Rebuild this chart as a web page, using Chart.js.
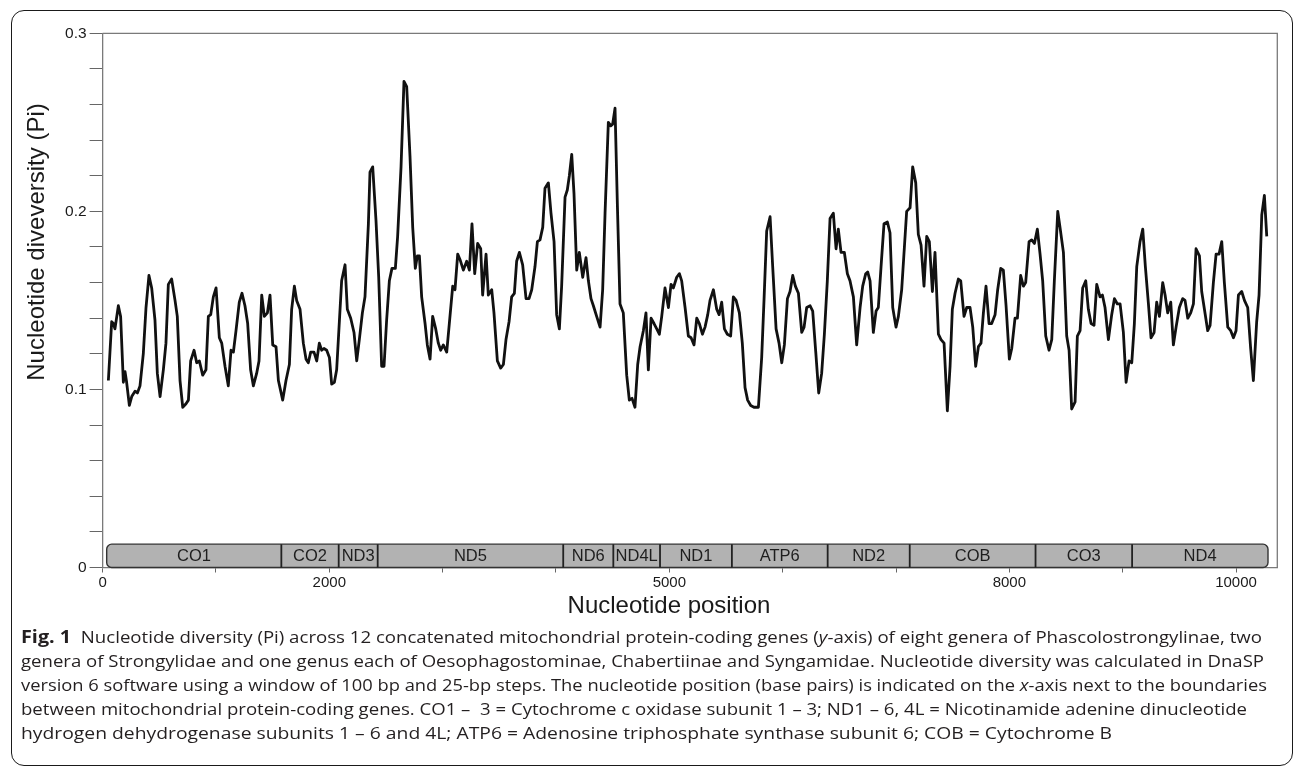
<!DOCTYPE html>
<html><head><meta charset="utf-8">
<script src="https://cdn.jsdelivr.net/npm/chart.js@4.4.1/dist/chart.umd.min.js"></script>
<style>
html,body{margin:0;padding:0;background:#fff;}
#wrap{position:relative;width:1293px;height:766px;overflow:hidden;background:#fff;}
#frame{position:absolute;left:10.5px;top:9.5px;width:1282px;height:756px;border:1.3px solid #1a1a1a;border-radius:13px;box-sizing:border-box;}
#c{position:absolute;left:0;top:0;}
#caption{position:absolute;left:21px;top:625px;font-family:"Open Sans","Noto Sans",sans-serif;font-size:16px;color:#231f20;line-height:24px;}
.ln{white-space:nowrap;transform-origin:0 50%;width:max-content;height:24px;}
.ln b{font-weight:700;font-size:17px;}
</style></head>
<body>
<div id="wrap">
<div id="frame"></div>
<canvas id="c" width="1293" height="766"></canvas>
<div id="caption">
<div class="ln" data-w="1241"><b>Fig. 1</b>&nbsp; Nucleotide diversity (Pi) across 12 concatenated mitochondrial protein-coding genes (<i>y</i>-axis) of eight genera of Phascolostrongylinae, two</div>
<div class="ln" data-w="1243">genera of Strongylidae and one genus each of Oesophagostominae, Chabertiinae and Syngamidae. Nucleotide diversity was calculated in DnaSP</div>
<div class="ln" data-w="1246">version 6 software using a window of 100 bp and 25-bp steps. The nucleotide position (base pairs) is indicated on the <i>x</i>-axis next to the boundaries</div>
<div class="ln" data-w="1226">between mitochondrial protein-coding genes. CO1 –&nbsp; 3 = Cytochrome c oxidase subunit 1 – 3; ND1 – 6, 4L = Nicotinamide adenine dinucleotide</div>
<div class="ln" data-w="1091">hydrogen dehydrogenase subunits 1 – 6 and 4L; ATP6 = Adenosine triphosphate synthase subunit 6; COB = Cytochrome B</div>
</div>
</div>
<script>
// ---- data ----
const positions = [
51,80,95,109,139,159,183,198,212,236, 257,286,307,330,359,383,409,433,462,483,
507,536,559,580,609,639,659,683,707,736, 757,777,807,830,854,883,912,933,954,977,
1001,1030,1051,1080,1109,1133,1154,1177,1206,1230, 1256,1280,1306,1330,1359,1380,1404,1427,1454,1477,
1501,1530,1551,1589,1618,1648,1668,1692,1712,1742, 1771,1795,1815,1836,1865,1889,1912,1933,1953,1977,
2001,2021,2045,2065,2109,2139,2159,2189,2218,2242, 2265,2292,2315,2345,2359,2383,2412,2436,2462,2483,
2506,2530,2553,2583,2603,2633,2659,2683,2712,2736, 2759,2777,2795,2815,2845,2865,2889,2912,2939,2962,
2983,3006,3036,3059,3089,3109,3133,3153,3183,3212, 3236,3259,3283,3309,3336,
3353,3383,3403,3433,3453,3483,3512,3536,3559,3586, 3609,3633,3653,3677,3706,3736,3762,3786,3815,3836,
3859,3883,3903,3933,3956,3983,4006,4030,4050,4080, 4100,4118,4139,4159,4183,4206,4236,4265,4286,4309,
4330,4359,4389,4412,4433,4462,4483,4500,4521,4542, 4565,4594,4624,4647,4671,4697,4721,4742,4771,4794,
4815,4839,4865,4889,4912,4933,4962,4992,5015,5036, 5065,5089,5109,5139,5168,5192,5218,5242,5265,5292,
5315,5339,5359,5389,5418,5439,5462,5486,5512,5541, 5565,5589,5618,5644,5668,5691,5718,5747,5786,5815,
5836,5859,5889,5912,5942,5968,5992,6015,6042,6065, 6089,6112,6139,6168,6189,6212,6242,6265,6292,6318,
6344,6368,6394,6418,6447,6471,6491,6515,6544,6571, 6594,6624,6653,6683,6706,6733,6750,6771,
6800,6824,6844,6868,6894,6924,6947,6971,7000,7021, 7050,7074,7094,7124,7147,7174,7197,7221,7247,7271,
7294,7321,7344,7374,7397,7424,7453,7477,7497,7521, 7550,7571,7600,7624,7653,7677,7703,7727,7750,7771,
7794,7821,7844,7874,7897,7924,7947,7971,8000,8021, 8050,8071,8100,8124,8144,8174,8197,8221,8247,8271,
8294,8321,8350,8374,8397,8427,8447,8477,8506,8527, 8550,8580,8600,8624,8647,8674,8697,8721,8747,8771,
8800,8821,8844,8874,8903,8927,8953,8977,9006,9030, 9056,9080,9103,9124,9153,9177,9200,9227,9250,9277,
9300,9324,9353,9374,9397,9424,9447,9471,9500,9529, 9550,9574,9600,9624,9647,9677,9697,9721,9750,9771,
9800,9824,9850,9874,9897,9927,9953,9977,10000,10021, 10050,10074,10103,10129,10153,10182,10203,10227,10250,10271
];
const piValues = [
.105,.138,.137,.134,.147,.141,.104,.110,.104,.091, .096,.099,.098,.102,.120,.146,.164,.157,.139,.109,
.096,.111,.126,.159,.162,.150,.141,.105,.090,.092, .094,.116,.122,.115,.116,.108,.111,.141,.142,.152,
.157,.129,.126,.113,.102,.122,.121,.133,.149,.154, .147,.137,.111,.102,.109,.116,.153,.141,.143,.153,
.125,.124,.105,.094,.105,.114,.145,.158,.150,.145, .126,.117,.115,.121,.121,.116,.126,.122,.123,.122,
.118,.103,.104,.111,.161,.170,.145,.140,.132,.116, .128,.143,.152,.193,.222,.225,.195,.163,.113,.113,
.139,.161,.168,.168,.186,.225,.273,.270,.231,.191, .168,.175,.175,.152,.137,.125,.117,.141,.134,.126,
.122,.125,.121,.137,.158,.156,.176,.173,.167,.172, .167,.193,.165,.182,.179,
.153,.176,.153,.156,.143,.116,.112,.114,.128,.138, .152,.154,.172,.177,.170,.151,.151,.156,.169,.183,
.184,.191,.213,.216,.199,.183,.142,.134,.158,.208, .212,.220,.232,.210,.167,.177,.163,.174,.161,.151,
.147,.141,.135,.156,.199,.250,.248,.249,.258,.203, .148,.143,.108,.094,.095,.090,.114,.124,.133,.143,
.111,.140,.137,.134,.131,.141,.157,.146,.159,.157, .163,.165,.161,.146,.130,.129,.125,.140,.137,.131,
.135,.142,.150,.156,.145,.142,.149,.134,.131,.130, .152,.150,.143,.126,.101,.094,.091,.090,.090,.118,
.151,.189,.197,.169,.134,.126,.115,.125,.151,.155, .164,.158,.154,.132,.135,.146,.147,.144,.121,.098,
.109,.131,.161,.196,.199,.179,.190,.177,.177,.165, .161,.152,.125,.146,.158,.165,.166,.161,
.132,.144,.146,.169,.193,.194,.188,.146,.135,.141, .156,.180,.200,.202,.225,.216,.187,.181,.158,.186,
.183,.155,.177,.131,.128,.126,.088,.113,.145,.154, .162,.161,.141,.146,.146,.135,.113,.124,.126,.143,
.158,.137,.137,.142,.156,.168,.167,.147,.117,.123, .140,.140,.164,.158,.160,.183,.184,.182,.190,.176,
.161,.130,.122,.128,.161,.200,.191,.177,.130,.122, .089,.093,.130,.133,.157,.161,.145,.137,.136,.159,
.152,.153,.146,.128,.142,.151,.148,.148,.132,.104, .116,.115,.137,.169,.183,.190,.169,.148,.129,.132,
.149,.141,.160,.153,.143,.149,.125,.135,.146,.151, .150,.140,.143,.148,.179,.175,.155,.145,.133,.136,
.160,.176,.176,.183,.160,.135,.133,.129,.133,.153, .155,.150,.146,.123,.105,.138,.153,.198,.209,.186
];
const geneNames  = ['CO1','CO2','ND3','ND5','ND6','ND4L','ND1','ATP6','ND2','COB','CO3','ND4'];
const geneStarts = [36,1577,2083,2427,4064,4506,4918,5552,6397,7121,8231,9083];
const geneEnds   = [1577,2083,2427,4064,4506,4918,5552,6397,7121,8231,9083,10282];
const xTickValues = [0,1000,2000,3000,4000,5000,6000,7000,8000,9000,10000];
const xTickLabels = ['0','','2000','','','5000','','','8000','','10000'];
const yTickValues = [0,0.02,0.04,0.06,0.08,0.1,0.12,0.14,0.16,0.18,0.2,0.22,0.24,0.26,0.28,0.3];
const yTickLabels = ['0','','','','','0.1','','','','','0.2','','','','','0.3'];
const xMax = 10364;
const geneBarHeight = 0.0131;

// ---- drawing ----
const FONT = '"Liberation Sans", Arial, sans-serif';
const points = positions.map((x, i) => ({x: x, y: piValues[i]}));

const extras = {
  id: 'extras',
  beforeDatasetsDraw(chart) {
    const {ctx, chartArea: a} = chart;
    ctx.save();
    ctx.strokeStyle = '#7a7a7a';
    ctx.lineWidth = 1.3;
    ctx.beginPath();
    ctx.moveTo(a.left, a.top); ctx.lineTo(a.right, a.top); ctx.lineTo(a.right, a.bottom);
    ctx.stroke();
    ctx.restore();
  },
  afterDatasetsDraw(chart) {
    const {ctx} = chart;
    const xs = chart.scales.x, ys = chart.scales.y;
    const yb = ys.getPixelForValue(0), yt = ys.getPixelForValue(geneBarHeight);
    const n = geneNames.length;
    const x0 = xs.getPixelForValue(geneStarts[0]), x1 = xs.getPixelForValue(geneEnds[n - 1]);
    ctx.save();
    ctx.beginPath();
    ctx.roundRect(x0, yt, x1 - x0, yb - yt, 5);
    ctx.fillStyle = '#b2b2b2';
    ctx.fill();
    ctx.lineWidth = 1.4;
    ctx.strokeStyle = '#333';
    ctx.stroke();
    ctx.beginPath();
    for (let i = 1; i < n; i++) {
      const px = xs.getPixelForValue(geneStarts[i]);
      ctx.moveTo(px, yt); ctx.lineTo(px, yb);
    }
    ctx.lineWidth = 1.8;
    ctx.strokeStyle = '#222';
    ctx.stroke();
    ctx.fillStyle = '#1e1e1e';
    ctx.font = '16.5px ' + FONT;
    ctx.textAlign = 'center';
    ctx.textBaseline = 'middle';
    for (let i = 0; i < n; i++) {
      const cx = (xs.getPixelForValue(geneStarts[i]) + xs.getPixelForValue(geneEnds[i])) / 2;
      ctx.fillText(geneNames[i], cx, (yt + yb) / 2 + 1);
    }
    ctx.restore();
  },
  afterDraw(chart) {
    const {ctx} = chart;
    ctx.save();
    ctx.fillStyle = '#1a1a1a';
    ctx.font = '24px ' + FONT;
    ctx.textAlign = 'center';
    ctx.textBaseline = 'middle';
    ctx.fillText('Nucleotide position', 669, 606);
    ctx.translate(37, 242);
    ctx.rotate(-Math.PI / 2);
    ctx.fillText('Nucleotide diveversity (Pi)', 0, 0);
    ctx.restore();
  }
};

new Chart(document.getElementById('c'), {
  type: 'line',
  data: {datasets: [{
    data: points,
    borderColor: '#111',
    borderWidth: 2.8,
    borderJoinStyle: 'round',
    pointRadius: 0,
    tension: 0,
    fill: false
  }]},
  options: {
    responsive: false,
    devicePixelRatio: 1,
    animation: false,
    events: [],
    layout: {padding: {left: 0, right: 15.7, top: 33.3, bottom: 0}},
    plugins: {legend: {display: false}, tooltip: {enabled: false}},
    scales: {
      x: {
        type: 'linear', min: 0, max: xMax,
        afterFit(s) { s.height = 766 - 567.5; },
        afterBuildTicks(s) { s.ticks = xTickValues.map(v => ({value: v})); },
        ticks: {
          autoSkip: false, maxRotation: 0, padding: 1,
          color: '#1a1a1a', font: {family: FONT, size: 15},
          callback: (v) => { const i = xTickValues.indexOf(v); return i >= 0 ? xTickLabels[i] : ''; }
        },
        grid: {drawOnChartArea: false, drawTicks: true, tickLength: 5, color: '#666', lineWidth: 1},
        border: {display: true, color: '#7a7a7a', width: 1.3}
      },
      y: {
        type: 'linear', min: 0, max: 0.3,
        afterFit(s) { s.width = 102.6; },
        afterBuildTicks(s) { s.ticks = yTickValues.map(v => ({value: v})); },
        ticks: {
          autoSkip: false, padding: 3,
          color: '#1a1a1a', font: {family: FONT, size: 15.5},
          callback: (v) => { const i = yTickValues.findIndex(t => Math.abs(t - v) < 1e-9); return i >= 0 ? yTickLabels[i] : ''; }
        },
        grid: {drawOnChartArea: false, drawTicks: true, tickLength: 13, color: '#666', lineWidth: 1},
        border: {display: true, color: '#7a7a7a', width: 1.3}
      }
    }
  },
  plugins: [extras]
});

// fit caption lines to the widths they have in the figure
document.querySelectorAll('.ln').forEach(el => {
  const w = el.getBoundingClientRect().width;
  const target = +el.dataset.w;
  el.style.transform = 'scaleX(' + (target / w).toFixed(4) + ')';
});
</script>
</body></html>
